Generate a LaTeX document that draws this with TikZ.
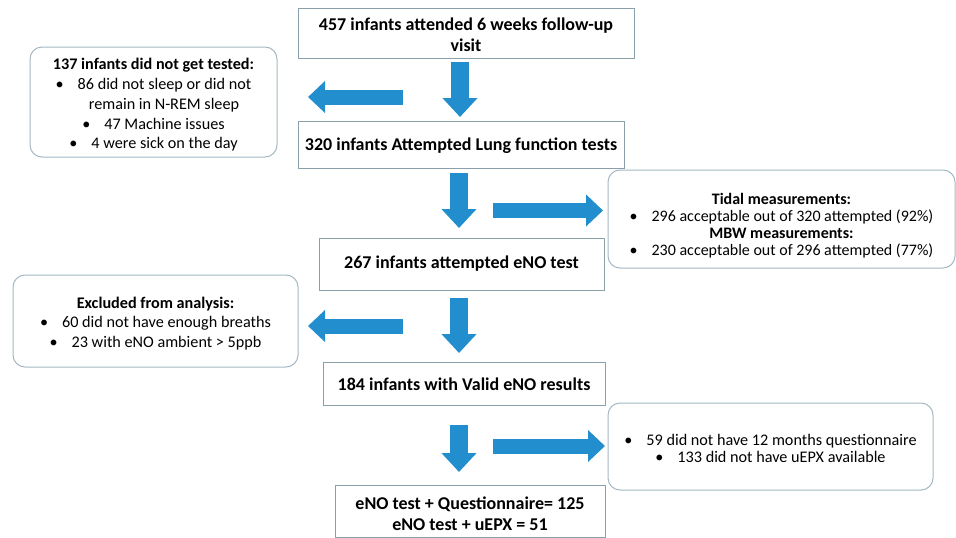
\documentclass[tikz,border=0pt]{standalone}
\usepackage{fontspec}
\setmainfont{Carlito}
\usetikzlibrary{arrows.meta}
\definecolor{arrowblue}{RGB}{35,142,205}
\definecolor{boxline}{RGB}{140,160,172}
\definecolor{rline}{RGB}{165,185,196}
\begin{document}
\begin{tikzpicture}[x=1pt,y=-1pt,
  mainbox/.style={draw=boxline, line width=1pt, inner sep=0pt},
  maintext/.style={align=center, inner sep=0pt,
    font=\fontsize{18}{20.5}\selectfont\bfseries},
  rbox/.style={draw=rline, line width=1pt, rounded corners=12pt, inner sep=0pt},
  rtext/.style={align=center, inner sep=0pt,
    font=\fontsize{16.2}{19.8}\selectfont},
  vblock/.style={draw=arrowblue, line width=18pt, -{Triangle[width=34pt,length=19pt]}},
  hblock/.style={draw=arrowblue, line width=15pt, -{Triangle[width=31pt,length=17pt]}}
]
\useasboundingbox (0,0) rectangle (956,538);

% main flow boxes
\node[mainbox, minimum width=336pt, minimum height=50pt] (b1) at (466,33) {};
\node[maintext] (b1t) at ([yshift=-2pt]b1.center)
  {457 infants attended 6 weeks follow-up\\visit};
\node[mainbox, minimum width=326pt, minimum height=47pt] (b2) at (461,144.5) {};
\node[maintext] (b2t) at ([yshift=-1.5pt]b2.center)
  {320 infants Attempted Lung function tests};
\node[mainbox, minimum width=285pt, minimum height=52pt] (b3) at (461.5,264) {};
\node[maintext] (b3t) at (b3.center)
  {267 infants attempted eNO test};
\node[mainbox, minimum width=282pt, minimum height=43pt] (b4) at (464,383.5) {};
\node[maintext] (b4t) at ([yshift=-1pt]b4.center)
  {184 infants with Valid eNO results};
\node[mainbox, minimum width=270pt, minimum height=52pt] (b5) at (470,511) {};
\node[maintext] (b5t) at ([yshift=-2.5pt]b5.center)
  {eNO test + Questionnaire= 125\\eNO test + uEPX = 51};

% side boxes
\node[rbox, minimum width=247pt, minimum height=110pt] (l1) at (153.5,102) {};
\node[rtext] (l1t) at ([yshift=-3pt]l1.center)
  {{\bfseries 137 infants did not get tested:}\\
   \textbullet\hspace{14pt}86 did not sleep or did not\\
   \hspace*{21pt}remain in N-REM sleep\\
   \textbullet\hspace{14pt}47 Machine issues\\
   \textbullet\hspace{14pt}4 were sick on the day};
\node[rbox, minimum width=347pt, minimum height=98pt] (r1) at (781.5,219) {};
\node[rtext, font=\fontsize{16}{17}\selectfont] (r1t) at ([yshift=-7pt]r1.center)
  {{\bfseries Tidal measurements:}\\
   \textbullet\hspace{14pt}296 acceptable out of 320 attempted (92\%)\\
   {\bfseries MBW measurements:}\\
   \textbullet\hspace{14pt}230 acceptable out of 296 attempted (77\%)};
\node[rbox, minimum width=285pt, minimum height=92pt] (l2) at (155.5,321) {};
\node[rtext] (l2t) at ([yshift=-2.5pt]l2.center)
  {{\bfseries Excluded from analysis:}\\
   \textbullet\hspace{14pt}60 did not have enough breaths\\
   \textbullet\hspace{14pt}23 with eNO ambient > 5ppb};
\node[rbox, minimum width=325pt, minimum height=87pt] (r2) at (770.5,446.5) {};
\node[rtext, font=\fontsize{16.2}{17.5}\selectfont] (r2t) at ([yshift=-2pt]r2.center)
  {\textbullet\hspace{14pt}59 did not have 12 months questionnaire\\
   \textbullet\hspace{14pt}133 did not have uEPX available};

% block arrows
\coordinate (d1s) at (460,62);  \coordinate (d1e) at (460,117);
\coordinate (d2s) at (459,173); \coordinate (d2e) at (459,228);
\coordinate (d3s) at (459,298); \coordinate (d3e) at (459,353);
\coordinate (d4s) at (459,425); \coordinate (d4e) at (459,472);
\coordinate (h1s) at (403,97);  \coordinate (h1e) at (308,97);
\coordinate (h2s) at (493,210.5); \coordinate (h2e) at (603,210.5);
\coordinate (h3s) at (403,326); \coordinate (h3e) at (308,326);
\coordinate (h4s) at (493,446); \coordinate (h4e) at (605,446);

\draw[vblock] (d1s) -- (d1e);
\draw[vblock] (d2s) -- (d2e);
\draw[vblock] (d3s) -- (d3e);
\draw[vblock] (d4s) -- (d4e);
\draw[hblock] (h1s) -- (h1e);
\draw[hblock] (h2s) -- (h2e);
\draw[hblock] (h3s) -- (h3e);
\draw[hblock] (h4s) -- (h4e);
\end{tikzpicture}
\end{document}
